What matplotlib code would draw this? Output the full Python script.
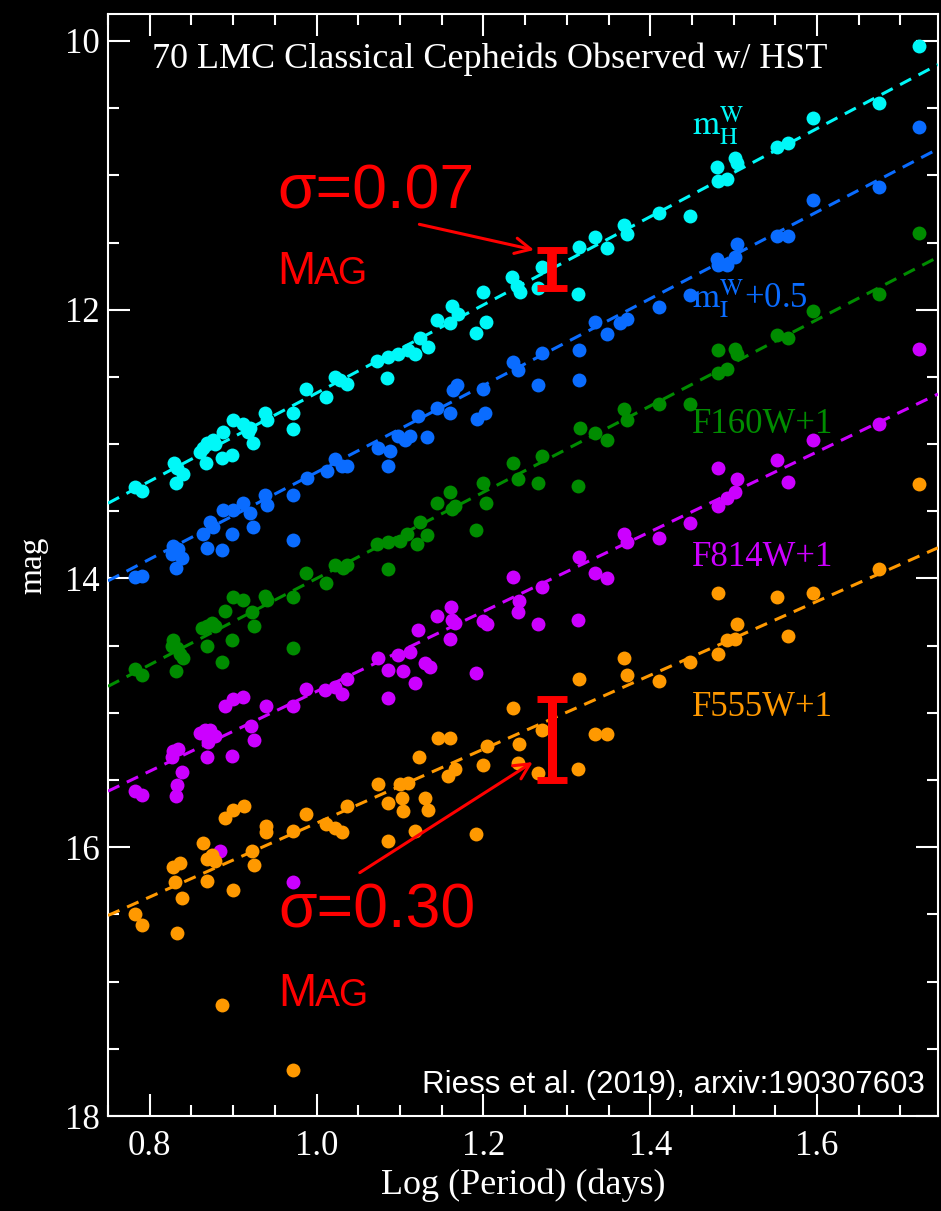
import numpy as np
import matplotlib
matplotlib.use("Agg")
import matplotlib.pyplot as plt
from matplotlib.ticker import MultipleLocator, FormatStrFormatter

plt.rcParams['font.family'] = ['Liberation Serif', 'DejaVu Serif']
plt.rcParams['mathtext.fontset'] = 'stix'
plt.rcParams['lines.scale_dashes'] = False

# Wesenheit H
logp_h = [0.782, 0.791, 0.829, 0.833, 0.840, 0.832, 0.860, 0.868, 0.864, 0.869,
          0.876, 0.878, 0.888, 0.887, 0.899, 0.900, 0.912, 0.920, 0.924, 0.918,
          0.938, 0.941, 0.972, 0.972, 0.987, 1.011, 1.022, 1.028, 1.037, 1.073,
          1.086, 1.098, 1.085, 1.110, 1.118, 1.124, 1.134, 1.144, 1.160, 1.162,
          1.170, 1.191, 1.203, 1.200, 1.234, 1.240, 1.244, 1.266, 1.270, 1.314,
          1.315, 1.334, 1.348, 1.368, 1.372, 1.411, 1.448, 1.480, 1.481, 1.492,
          1.502, 1.504, 1.552, 1.565, 1.595, 1.674, 1.722]
mag_h = [13.32, 13.35, 13.14, 13.18, 13.22, 13.29, 13.06, 13.14, 13.03, 12.99,
         12.97, 13.00, 12.91, 13.10, 13.08, 12.82, 12.85, 12.88, 12.99, 12.91,
         12.77, 12.82, 12.77, 12.89, 12.59, 12.65, 12.50, 12.52, 12.55, 12.38,
         12.35, 12.33, 12.51, 12.30, 12.33, 12.21, 12.28, 12.08, 12.10, 11.97,
         12.03, 12.17, 12.09, 11.87, 11.76, 11.82, 11.87, 11.84, 11.68, 11.88,
         11.53, 11.46, 11.54, 11.37, 11.44, 11.28, 11.30, 10.94, 11.04, 11.03,
         10.87, 10.91, 10.79, 10.76, 10.57, 10.46, 10.04]

# Wesenheit I + 0.5
logp_i = [0.782, 0.791, 0.828, 0.834, 0.839, 0.832, 0.827, 0.864, 0.869, 0.872,
          0.876, 0.887, 0.899, 0.888, 0.900, 0.912, 0.920, 0.924, 0.938, 0.941,
          0.972, 0.972, 0.989, 1.013, 1.022, 1.037, 1.031, 1.074, 1.088, 1.086,
          1.098, 1.106, 1.112, 1.122, 1.132, 1.144, 1.160, 1.164, 1.168, 1.192,
          1.202, 1.200, 1.236, 1.242, 1.266, 1.270, 1.315, 1.315, 1.334, 1.348,
          1.364, 1.372, 1.411, 1.448, 1.480, 1.481, 1.492, 1.502, 1.504, 1.552,
          1.565, 1.595, 1.674, 1.722]
mag_i = [13.99, 13.98, 13.76, 13.78, 13.85, 13.92, 13.82, 13.67, 13.77, 13.58,
         13.62, 13.79, 13.67, 13.49, 13.49, 13.44, 13.51, 13.62, 13.38, 13.45,
         13.38, 13.71, 13.25, 13.20, 13.11, 13.16, 13.16, 13.03, 13.05, 13.16,
         12.94, 12.97, 12.94, 12.79, 12.95, 12.73, 12.77, 12.60, 12.56, 12.81,
         12.77, 12.59, 12.39, 12.45, 12.56, 12.32, 12.30, 12.52, 12.09, 12.18,
         12.10, 12.07, 11.98, 11.89, 11.62, 11.67, 11.67, 11.61, 11.51, 11.45,
         11.45, 11.18, 11.09, 10.64]

# F160W + 1
logp_160 = [0.782, 0.791, 0.828, 0.833, 0.836, 0.840, 0.832, 0.827, 0.863, 0.869,
            0.875, 0.878, 0.869, 0.887, 0.890, 0.900, 0.912, 0.899, 0.923, 0.925,
            0.938, 0.941, 0.972, 0.972, 0.987, 1.011, 1.022, 1.032, 1.037, 1.073,
            1.086, 1.100, 1.109, 1.121, 1.124, 1.132, 1.086, 1.144, 1.160, 1.162,
            1.166, 1.191, 1.200, 1.203, 1.236, 1.242, 1.266, 1.270, 1.314, 1.316,
            1.334, 1.348, 1.368, 1.372, 1.411, 1.448, 1.481, 1.492, 1.481, 1.502,
            1.504, 1.552, 1.565, 1.595, 1.674, 1.722]
mag_160 = [14.67, 14.72, 14.46, 14.52, 14.56, 14.59, 14.69, 14.50, 14.37, 14.35,
           14.33, 14.35, 14.50, 14.62, 14.24, 14.14, 14.16, 14.46, 14.25, 14.35,
           14.13, 14.16, 14.14, 14.52, 13.96, 14.03, 13.90, 13.92, 13.90, 13.74,
           13.73, 13.72, 13.67, 13.74, 13.58, 13.68, 13.93, 13.44, 13.36, 13.48,
           13.46, 13.64, 13.29, 13.44, 13.14, 13.26, 13.29, 13.09, 13.31, 12.88,
           12.92, 12.97, 12.74, 12.82, 12.70, 12.70, 12.30, 12.44, 12.47, 12.29,
           12.33, 12.19, 12.21, 12.01, 11.88, 11.43]

# F814W + 1
logp_814 = [0.782, 0.791, 0.828, 0.834, 0.827, 0.839, 0.833, 0.832, 0.860, 0.866,
            0.872, 0.878, 0.870, 0.869, 0.899, 0.890, 0.900, 0.912, 0.921, 0.925,
            0.939, 0.972, 0.987, 1.010, 1.022, 1.031, 1.037, 1.074, 1.086, 1.086,
            1.098, 1.104, 1.112, 1.118, 1.130, 1.136, 1.122, 1.144, 1.160, 1.162,
            1.161, 1.166, 1.191, 1.200, 1.204, 1.236, 1.243, 1.242, 1.266, 1.270,
            1.314, 1.315, 1.334, 1.348, 1.368, 1.372, 1.411, 1.448, 1.481, 1.504,
            1.502, 1.492, 1.481, 1.552, 1.565, 1.595, 1.674, 1.722, 0.884, 0.972]
mag_814 = [15.58, 15.61, 15.28, 15.27, 15.33, 15.44, 15.54, 15.62, 15.15, 15.13,
           15.13, 15.17, 15.22, 15.33, 15.32, 14.95, 14.90, 14.88, 15.10, 15.20,
           14.95, 14.95, 14.82, 14.83, 14.81, 14.86, 14.75, 14.59, 14.68, 14.89,
           14.57, 14.69, 14.55, 14.78, 14.63, 14.66, 14.38, 14.28, 14.45, 14.31,
           14.21, 14.33, 14.70, 14.32, 14.34, 13.99, 14.17, 14.25, 14.34, 14.06,
           14.31, 13.84, 13.96, 14.00, 13.67, 13.73, 13.70, 13.59, 13.18, 13.26,
           13.36, 13.40, 13.46, 13.12, 13.28, 12.97, 12.85, 12.29, 16.03, 16.26]

# F555W + 1
logp_555 = [0.782, 0.791, 0.833, 0.828, 0.836, 0.830, 0.839, 0.864, 0.869, 0.875,
            0.878, 0.869, 0.900, 0.890, 0.900, 0.913, 0.887, 0.923, 0.925, 0.939,
            0.939, 0.972, 0.972, 0.987, 1.011, 1.022, 1.031, 1.037, 1.074, 1.086,
            1.086, 1.100, 1.110, 1.103, 1.104, 1.118, 1.130, 1.134, 1.123, 1.146,
            1.160, 1.158, 1.166, 1.191, 1.200, 1.204, 1.236, 1.243, 1.242, 1.266,
            1.270, 1.314, 1.315, 1.334, 1.348, 1.368, 1.372, 1.411, 1.448, 1.481,
            1.481, 1.492, 1.502, 1.504, 1.552, 1.565, 1.595, 1.674, 1.722]
mag_555 = [16.50, 16.58, 16.64, 16.15, 16.12, 16.26, 16.38, 15.97, 16.09, 16.06,
           16.10, 16.25, 16.32, 15.78, 15.72, 15.69, 17.17, 16.03, 16.13, 15.84,
           15.89, 15.88, 17.66, 15.75, 15.83, 15.86, 15.89, 15.69, 15.53, 15.67,
           15.95, 15.53, 15.52, 15.63, 15.73, 15.88, 15.63, 15.72, 15.33, 15.19,
           15.19, 15.47, 15.42, 15.90, 15.39, 15.25, 14.96, 15.23, 15.37, 15.45,
           15.13, 15.42, 14.75, 15.16, 15.16, 14.59, 14.72, 14.76, 14.62, 14.11,
           14.56, 14.46, 14.45, 14.34, 14.14, 14.43, 14.11, 13.93, 13.30]

# P-L fits: mag = zp + slope * (logP - 1)
fit_zp = [12.62, 13.21, 14.00, 14.84, 15.82]
fit_slope = [-3.28, -3.23, -3.21, -2.97, -2.75]

colors = ['#00f8f8', '#0a6cff', '#008c00', '#cc00ff', '#ff9900']
bands = [(logp_h, mag_h), (logp_i, mag_i), (logp_160, mag_160),
         (logp_814, mag_814), (logp_555, mag_555)]

sigma_h = 0.07
sigma_v = 0.30

fig = plt.figure(figsize=(9.41, 12.11), dpi=100, facecolor='black')
ax = fig.add_axes([0.1148, 0.0784, 0.8820, 0.9100])
ax.set_facecolor('black')

xs = np.array([0.75, 1.745])
for (lp, m), c, zp, sl in zip(bands, colors, fit_zp, fit_slope):
    ax.scatter(lp, m, s=100, color=c, linewidths=0, zorder=2)
    ax.plot(xs, zp + sl * (xs - 1.0), color=c, lw=2.2, ls=(0, (9, 6)), zorder=3)

ax.set_xlim(0.75, 1.745)
ax.set_ylim(18, 9.8)
ax.xaxis.set_major_locator(MultipleLocator(0.2))
ax.xaxis.set_minor_locator(MultipleLocator(0.05))
ax.xaxis.set_major_formatter(FormatStrFormatter('%.1f'))
ax.yaxis.set_major_locator(MultipleLocator(2))
ax.yaxis.set_minor_locator(MultipleLocator(0.5))
ax.yaxis.set_major_formatter(FormatStrFormatter('%d'))
ax.tick_params(which='both', direction='in', top=True, right=True,
               colors='white', width=1.5, labelsize=25)
ax.tick_params(which='major', length=16)
ax.tick_params(which='minor', length=8)
ax.tick_params(axis='x', pad=10)
ax.tick_params(axis='y', pad=6)
for sp in ax.spines.values():
    sp.set_color('white')
    sp.set_linewidth(1.5)

ax.set_xlabel('Log (Period) (days)', color='white', fontsize=26, labelpad=4)
ax.set_ylabel('mag', color='white', fontsize=24, labelpad=12)

ax.text(0.053, 0.951, '70 LMC Classical Cepheids Observed w/ HST',
        transform=ax.transAxes, color='white', fontsize=26, va='baseline')

# band labels
ax.text(1.450, 10.70, r'$\mathrm{m}_\mathrm{H}^\mathrm{W}$', color=colors[0],
        fontsize=25, va='baseline')
ax.text(1.450, 11.99, r'$\mathrm{m}_\mathrm{I}^\mathrm{W}$+0.5', color=colors[1],
        fontsize=25, va='baseline')
ax.text(1.450, 12.92, 'F160W+1', color=colors[2], fontsize=25, va='baseline')
ax.text(1.450, 13.91, 'F814W+1', color=colors[3], fontsize=25, va='baseline')
ax.text(1.450, 15.02, 'F555W+1', color=colors[4], fontsize=25, va='baseline')

# scatter bars
ax.errorbar(1.282, 11.696, yerr=2 * sigma_h, fmt='none', ecolor='red',
            elinewidth=7, capsize=10.5, capthick=5, zorder=4)
ax.errorbar(1.282, 15.20, yerr=sigma_v, fmt='none', ecolor='red',
            elinewidth=6.5, capsize=10.5, capthick=5, zorder=4)

sans = ['Liberation Sans', 'DejaVu Sans']
arrow = dict(arrowstyle='->', color='red', lw=2.2, mutation_scale=28)
ax.annotate('', xy=(1.264, 11.56), xytext=(1.120, 11.36), arrowprops=arrow, zorder=5)
ax.annotate('', xy=(1.262, 15.355), xytext=(1.049, 16.20), arrowprops=arrow, zorder=5)

ax.text(0.953, 11.247, f'σ={sigma_h:.2f}', color='red', fontsize=45,
        family=sans, va='baseline')
ax.text(0.953, 11.805, 'M', color='red', fontsize=33, family=sans, va='baseline')
ax.text(0.997, 11.805, 'AG', color='red', fontsize=27, family=sans, va='baseline')

ax.text(0.954, 16.60, f'σ={sigma_v:.2f}', color='red', fontsize=45,
        family=sans, va='baseline')
ax.text(0.954, 17.18, 'M', color='red', fontsize=33, family=sans, va='baseline')
ax.text(0.998, 17.18, 'AG', color='red', fontsize=27, family=sans, va='baseline')

ax.text(0.984, 0.021, 'Riess et al. (2019), arxiv:190307603', transform=ax.transAxes,
        color='white', fontsize=22.5, family=sans, ha='right', va='baseline')

fig.savefig('out.png', dpi=100, facecolor='black')
